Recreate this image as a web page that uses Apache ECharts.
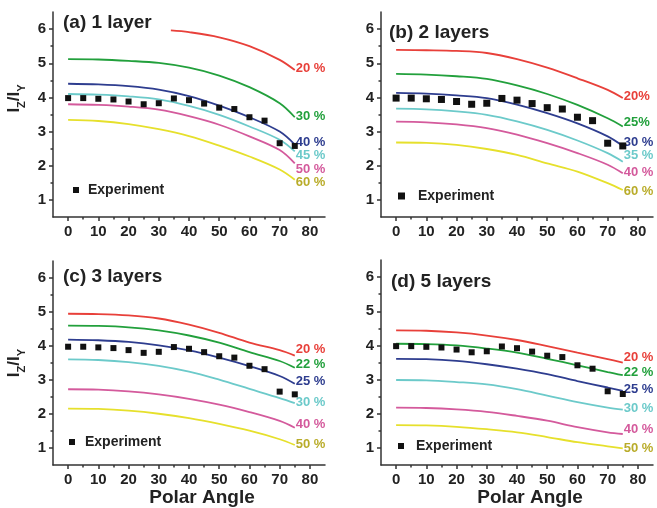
<!DOCTYPE html>
<html><head><meta charset="utf-8">
<script src="https://cdn.jsdelivr.net/npm/echarts@6/dist/echarts.min.js"></script>
<style>html,body{margin:0;padding:0;background:#fff}#c{width:657px;height:508px}</style>
</head><body><div id="c"></div>
<script>
// ---- data ----
const panelTitles = ['(a) 1 layer', '(b) 2 layers', '(c) 3 layers', '(d) 5 layers'];
const angles = [0, 10, 20, 30, 40, 50, 60, 70, 75];
const expAngles = [0, 5, 10, 15, 20, 25, 30, 35, 40, 45, 50, 55, 60, 65, 70, 75];
const expValues = [3.98, 3.98, 3.96, 3.94, 3.88, 3.80, 3.83, 3.97, 3.92, 3.82, 3.70, 3.66, 3.42, 3.32, 2.66, 2.58];
const xTicks = [0, 10, 20, 30, 40, 50, 60, 70, 80];
const xMinorTicks = [5, 15, 25, 35, 45, 55, 65, 75];
const yTicks = [1, 2, 3, 4, 5, 6];
const yMinorTicks = [1.5, 2.5, 3.5, 4.5, 5.5];

// panel (a) 1 layer
const aRedAngles = [34, 40, 50, 60, 70, 75];
const aRed = [5.96, 5.91, 5.76, 5.50, 5.10, 4.80];
const aGreen = [5.12, 5.11, 5.07, 5.01, 4.87, 4.64, 4.30, 3.83, 3.42];
const aBlue = [4.40, 4.38, 4.33, 4.23, 4.04, 3.76, 3.42, 3.00, 2.62];
const aCyan = [4.10, 4.08, 4.03, 3.94, 3.75, 3.49, 3.15, 2.76, 2.42];
const aMagenta = [3.80, 3.78, 3.73, 3.64, 3.45, 3.20, 2.86, 2.46, 2.07];
const aYellow = [3.34, 3.31, 3.22, 3.07, 2.87, 2.59, 2.27, 1.89, 1.59];
const aLabels = ['20 %', '30 %', '40 %', '45 %', '50 %', '60 %'];
// panel (b) 2 layers
const bRed = [5.39, 5.38, 5.36, 5.30, 5.12, 4.87, 4.56, 4.22, 3.98];
const bGreen = [4.69, 4.67, 4.62, 4.54, 4.35, 4.10, 3.78, 3.39, 3.15];
const bBlue = [4.13, 4.11, 4.06, 3.98, 3.79, 3.54, 3.24, 2.86, 2.58];
const bCyan = [3.67, 3.65, 3.59, 3.49, 3.30, 3.05, 2.74, 2.37, 2.12];
const bMagenta = [3.29, 3.27, 3.21, 3.10, 2.91, 2.66, 2.37, 2.03, 1.78];
const bYellow = [2.68, 2.67, 2.61, 2.49, 2.32, 2.07, 1.83, 1.49, 1.29];
const bLabels = ['20%', '25%', '30 %', '35 %', '40 %', '60 %'];
// panel (c) 3 layers
const cRed = [4.95, 4.94, 4.90, 4.81, 4.63, 4.39, 4.10, 3.88, 3.72];
const cGreen = [4.60, 4.59, 4.55, 4.46, 4.31, 4.10, 3.82, 3.56, 3.36];
const cBlue = [4.19, 4.17, 4.12, 4.02, 3.87, 3.66, 3.41, 3.12, 2.89];
const cCyan = [3.61, 3.59, 3.53, 3.42, 3.25, 3.01, 2.74, 2.47, 2.32];
const cMagenta = [2.73, 2.72, 2.67, 2.58, 2.45, 2.28, 2.06, 1.80, 1.60];
const cYellow = [2.16, 2.15, 2.10, 2.01, 1.88, 1.71, 1.51, 1.26, 1.09];
const cLabels = ['20 %', '22 %', '25 %', '30 %', '40 %', '50 %'];
// panel (d) 5 layers
const dRed = [4.44, 4.43, 4.38, 4.29, 4.16, 3.98, 3.79, 3.60, 3.50];
const dGreen = [4.05, 4.04, 4.00, 3.91, 3.79, 3.61, 3.42, 3.22, 3.13];
const dBlue = [3.61, 3.60, 3.55, 3.45, 3.32, 3.16, 2.96, 2.77, 2.67];
const dCyan = [2.99, 2.98, 2.93, 2.86, 2.72, 2.53, 2.34, 2.18, 2.12];
const dMagenta = [2.18, 2.17, 2.13, 2.06, 1.94, 1.80, 1.61, 1.46, 1.41];
const dYellow = [1.67, 1.66, 1.62, 1.55, 1.46, 1.32, 1.17, 1.05, 0.99];
const dLabels = ['20 %', '22 %', '25 %', '30 %', '40 %', '50 %'];

// ---- styles / layout ----
const FONT = '"Liberation Sans", Arial, sans-serif';
const lineColors = ['#e8403a', '#22a03c', '#2e3d8f', '#6ccaca', '#d45a9c', '#e6e02c'];
const labelColors = ['#e8403a', '#22a03c', '#2e3d8f', '#6ccaca', '#d45a9c', '#b9ac2a'];
const grids = [
  {left: 53, top: 12, width: 272, height: 205},
  {left: 381, top: 12, width: 272, height: 205},
  {left: 53, top: 261, width: 272, height: 205},
  {left: 381, top: 260, width: 272, height: 206}
];
const titlePos = [[63, 12], [389, 22], [63, 266], [391, 271]];
const legendPos = [
  {left: 73, top: 183, size: 6, gap: 4},
  {left: 398, top: 189, size: 7, gap: 8},
  {left: 69, top: 435, size: 6, gap: 5},
  {left: 398, top: 439, size: 6, gap: 7}
];
const labelDy = [
  [-2, -1, -2, 4, 6, 3],
  [-2, -4, -4, -6, -1, 1],
  [-6, -3, -2, -1, -3, -1],
  [-5, -3, -2, -1, -5, 0]
];

const panels = [
  {curves: [aRed, aGreen, aBlue, aCyan, aMagenta, aYellow], labels: aLabels},
  {curves: [bRed, bGreen, bBlue, bCyan, bMagenta, bYellow], labels: bLabels},
  {curves: [cRed, cGreen, cBlue, cCyan, cMagenta, cYellow], labels: cLabels},
  {curves: [dRed, dGreen, dBlue, dCyan, dMagenta, dYellow], labels: dLabels}
];

const axisLineStyle = {color: '#333', width: 1.5};
const xAxes = [], yAxes = [], series = [], titles = [], legends = [];

panels.forEach((p, i) => {
  const bottom = i >= 2, left = i % 2 === 0;
  xAxes.push({
    gridIndex: i, type: 'value', min: -5, max: 85,
    axisLine: {show: true, onZero: false, lineStyle: axisLineStyle},
    axisTick: {show: true, customValues: xTicks, length: 4, lineStyle: axisLineStyle},
    axisLabel: {customValues: xTicks, fontSize: 15, fontWeight: 'bold', color: '#222', fontFamily: FONT, margin: 7},
    splitLine: {show: false},
    name: bottom ? 'Polar Angle' : '',
    nameLocation: 'middle', nameGap: 22,
    nameTextStyle: {fontSize: 19, fontWeight: 'bold', color: '#222', fontFamily: FONT, padding: [0, 0, 0, 26]}
  });
  xAxes.push({
    gridIndex: i, type: 'value', min: -5, max: 85, position: 'bottom',
    axisLine: {show: false, onZero: false},
    axisTick: {show: true, customValues: xMinorTicks, length: 2.5, lineStyle: axisLineStyle},
    axisLabel: {show: false}, splitLine: {show: false}
  });
  yAxes.push({
    gridIndex: i, type: 'value', min: 0.5, max: 6.5,
    axisLine: {show: true, onZero: false, lineStyle: axisLineStyle},
    axisTick: {show: true, customValues: yTicks, length: 4, lineStyle: axisLineStyle},
    axisLabel: {customValues: yTicks, fontSize: 15, fontWeight: 'bold', color: '#222', fontFamily: FONT, margin: 7},
    splitLine: {show: false},
    name: left ? '{i|I}{s|Z}{i|/I}{s|Y}' : '',
    nameLocation: 'middle', nameRotate: 90, nameGap: 26,
    nameTextStyle: {
      fontFamily: FONT, color: '#222', padding: i === 0 ? [0, 0, 0, 32] : [0, 0, 0, 0],
      rich: {
        i: {fontSize: 17, fontWeight: 'bold', fontFamily: FONT, color: '#222', verticalAlign: 'bottom', padding: [0, 0, 4, 0]},
        s: {fontSize: 11, fontWeight: 'bold', fontFamily: FONT, color: '#222', verticalAlign: 'bottom'}
      }
    }
  });
  yAxes.push({
    gridIndex: i, type: 'value', min: 0.5, max: 6.5, position: 'left',
    axisLine: {show: false, onZero: false},
    axisTick: {show: true, customValues: yMinorTicks, length: 2.5, lineStyle: axisLineStyle},
    axisLabel: {show: false}, splitLine: {show: false}
  });
  titles.push({
    text: panelTitles[i], left: titlePos[i][0], top: titlePos[i][1], padding: 0,
    textStyle: {fontSize: 19, fontWeight: 'bold', color: '#222', fontFamily: FONT, lineHeight: 22}
  });
  const lp = legendPos[i];
  legends.push({
    left: lp.left, top: lp.top, padding: 0, data: ['Experiment'],
    icon: 'rect', itemWidth: lp.size, itemHeight: lp.size,
    itemStyle: {color: '#111', opacity: 1},
    textStyle: {fontSize: 14, fontWeight: 'bold', color: '#222', fontFamily: FONT, padding: [0, 0, 0, lp.gap]}
  });
  p.curves.forEach((vals, k) => {
    const xs = (i === 0 && k === 0) ? aRedAngles : angles;
    series.push({
      type: 'line', xAxisIndex: 2 * i, yAxisIndex: 2 * i, name: p.labels[k] + '_' + i,
      data: vals.map((v, j) => [xs[j], v]),
      smooth: 0.35, showSymbol: false, symbol: 'none',
      lineStyle: {color: lineColors[k], width: 1.8},
      itemStyle: {color: lineColors[k]},
      endLabel: {
        show: true, formatter: p.labels[k], distance: 1, offset: [0, labelDy[i][k]],
        color: labelColors[k], fontSize: 13, fontWeight: 'bold', fontFamily: FONT
      },
      silent: true, z: 2
    });
  });
  series.push({
    type: 'scatter', name: 'Experiment', xAxisIndex: 2 * i, yAxisIndex: 2 * i,
    data: expAngles.map((a, j) => [a, expValues[j]]),
    symbol: 'rect', symbolSize: i === 1 ? 7 : 6,
    itemStyle: {color: '#111', opacity: 1}, z: 3
  });
});

const chart = echarts.init(document.getElementById('c'), null, {renderer: 'canvas'});
chart.setOption({
  animation: false,
  backgroundColor: '#fff',
  grid: grids,
  title: titles,
  legend: legends,
  xAxis: xAxes,
  yAxis: yAxes,
  series: series
});
</script>
</body></html>
